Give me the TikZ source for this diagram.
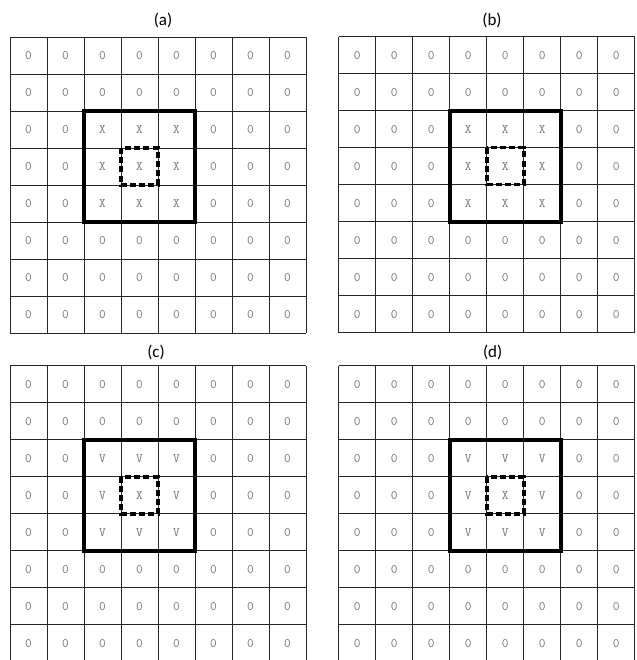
\documentclass[tikz,border=0pt]{standalone}
\usepackage{fontspec}
\setmainfont{Carlito}
\tikzset{
  cell/.style={font=\ttfamily\fontsize{13}{14}\selectfont, text=black!55, inner sep=0pt},
  gridline/.style={draw=black!85, line width=0.9pt},
  thickbox/.style={draw=black, line width=3.8pt},
  dashbox/.style={draw=black, line width=3.6pt, dash pattern=on 6pt off 3.2pt},
  lab/.style={font=\fontsize{17}{20}\selectfont, inner sep=0pt}
}
\newcommand\panel[5]{%
  \begin{scope}[shift={(#2,#3)}]
    \foreach \r in {0,...,7}{\foreach \c in {0,...,7}{
      \pgfmathtruncatemacro\inr{(\r>=2)&&(\r<=4)&&(\c>=#4)&&(\c<=#4+2)}
      \pgfmathtruncatemacro\ctr{(\r==3)&&(\c==#4+1)}
      \ifnum\ctr=1 \def\t{X}\else\ifnum\inr=1 \def\t{#5}\else\def\t{0}\fi\fi
      \node[cell] (#1-\r-\c) at ({37*\c+18.5},{37*\r+18.5}) {\t};
    }}
    \foreach \i in {0,...,8}{
      \draw[gridline] ({\i*37},0) -- ({\i*37},296);
      \draw[gridline] (0,{\i*37}) -- (296,{\i*37});
    }
    \draw[thickbox] ({37*#4},74) rectangle ({37*#4+111},185);
    \draw[dashbox] ({37*(#4+1)},111) rectangle ({37*(#4+1)+37},148);
  \end{scope}
}
\begin{document}
\begin{tikzpicture}[x=1pt,y=-1pt]
\useasboundingbox (0,0) rectangle (636,660);
\panel{a}{10}{37}{2}{X}
\panel{b}{338.7}{36.7}{3}{X}
\panel{c}{10}{365.7}{2}{V}
\panel{d}{338.7}{365.7}{3}{V}
\node[lab] (la) at (163,20.3) {(a)};
\node[lab] (lb) at (492,20.3) {(b)};
\node[lab] (lc) at (156,352) {(c)};
\node[lab] (ld) at (492.7,352) {(d)};
\end{tikzpicture}
\end{document}
